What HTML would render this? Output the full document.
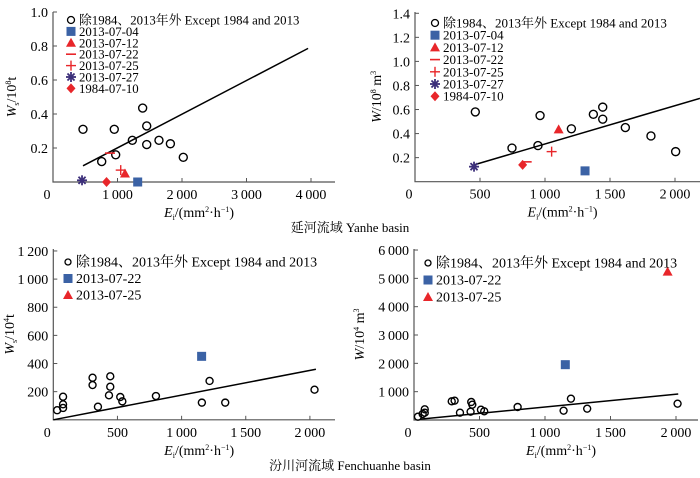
<!DOCTYPE html>
<html><head><meta charset="utf-8">
<style>
html,body{margin:0;padding:0;background:#fff;}
svg{display:block;font-family:"Liberation Serif","Noto Serif CJK SC",serif;}
</style></head>
<body>
<svg id="chart" width="700" height="478" viewBox="0 0 700 478" xmlns="http://www.w3.org/2000/svg">
<text x="350" y="232" font-size="13" text-anchor="middle">延河流域  Yanhe basin</text>
<text x="350" y="470" font-size="13" text-anchor="middle">汾川河流域 Fenchuanhe basin</text>
</svg>
<script>
// ---- Panel A: Yanhe sediment Ws/10^8 t ----
const aXTicks=[1000,2000,3000,4000];
const aYTicks=[0.2,0.4,0.6,0.8,1.0];
const aCircE=[465,755,950,972,1230,1390,1453,1453,1643,1820,2020];
const aCircW=[0.31,0.12,0.31,0.16,0.245,0.435,0.33,0.22,0.245,0.225,0.145];
const aEventE=[1313,1116,884,1050,450,830];
const aEventW=[0.0,0.05,0.17,0.07,0.01,0.0];
const aLineE=[465,3955];
const aLineW=[0.095,0.786];
// ---- Panel B: Yanhe runoff W/10^8 m3 ----
const bXTicks=[500,1000,1500,2000];
const bYTicks=[0.2,0.4,0.6,0.8,1.0,1.2,1.4];
const bCircE=[464,746,946,962,1203,1372,1444,1444,1618,1815,2005];
const bCircW=[0.58,0.28,0.30,0.55,0.44,0.56,0.62,0.52,0.45,0.38,0.25];
const bEventE=[1308,1105,859,1051,454,828];
const bEventW=[0.09,0.435,0.165,0.25,0.125,0.14];
const bLineE=[454,2192];
const bLineW=[0.14,0.693];
// ---- Panel C: Fenchuanhe sediment Ws/10^4 t ----
const cXTicks=[500,1000,1500,2000];
const cYTicks=[200,400,600,800,1000,1200];
const cCircE=[30,76,76,76,306,306,348,434,444,444,522,538,800,1158,1218,1340,2036];
const cCircW=[68,164,110,84,299,247,93,174,309,235,162,131,169,122,276,122,214];
const cEventE=[1156];
const cEventW=[451];
const cLineE=[0,2047];
const cLineW=[0,359];
// ---- Panel D: Fenchuanhe runoff W/10^4 m3 ----
const dXTicks=[500,1000,1500,2000];
const dYTicks=[1000,2000,3000,4000,5000,6000];
const dCircE=[30,66,82,82,288,310,351,432,437,445,511,536,791,1142,1198,1322,2012];
const dCircW=[117,212,377,258,660,682,258,294,635,541,364,306,459,329,753,400,576];
const dEventE=[1155,1936];
const dEventW=[1953,5236];
const dLineE=[50,2017];
const dLineW=[30,918];

const NS="http://www.w3.org/2000/svg";
const svg=document.getElementById('chart');
function mk(tag,attrs,parent){const e=document.createElementNS(NS,tag);for(const k in attrs)e.setAttribute(k,attrs[k]);(parent||svg).appendChild(e);return e;}
function fmt(v){if(v>=1000){const s=String(v);return s.slice(0,s.length-3)+'\u2009'+s.slice(-3);}return (v<10&&v%1!==0)||v===1?v.toFixed(1):String(v);}

const markerStyles={
 square:(g,x,y)=>mk('rect',{x:x-4.5,y:y-4.5,width:9,height:9,fill:'#3b62a5'},g),
 triangle:(g,x,y)=>mk('polygon',{points:`${x},${y-5} ${x-5},${y+4} ${x+5},${y+4}`,fill:'#e8262a'},g),
 dash:(g,x,y)=>mk('line',{x1:x-5,y1:y,x2:x+5,y2:y,stroke:'#e8262a','stroke-width':1.6},g),
 plus:(g,x,y)=>{mk('line',{x1:x-5,y1:y,x2:x+5,y2:y,stroke:'#e8262a','stroke-width':1.4},g);mk('line',{x1:x,y1:y-5,x2:x,y2:y+5,stroke:'#e8262a','stroke-width':1.4},g);},
 star:(g,x,y)=>{for(let a=0;a<4;a++){const t=a*Math.PI/4;mk('line',{x1:x-5*Math.cos(t),y1:y-5*Math.sin(t),x2:x+5*Math.cos(t),y2:y+5*Math.sin(t),stroke:'#3c2f7a','stroke-width':1.8},g);}},
 diamond:(g,x,y)=>mk('polygon',{points:`${x},${y-5} ${x+4.5},${y} ${x},${y+5} ${x-4.5},${y}`,fill:'#e8262a'},g)
};

function panel(p){
 const g=mk('g',{});
 
 
 const sx=e=>p.x0+e*p.kx, sy=w=>p.y0-w*p.ky;
 const ax=mk('path',{d:`M${p.x0},${p.yTop}V${p.y0}H${p.xEnd}`,fill:'none',stroke:'#555','stroke-width':1.2},g);
 
 
 const z=mk('text',{x:p.x0-6,y:p.y0+17,'font-size':14,'text-anchor':'middle'},g);z.textContent='0';
 
 
 p.xt.forEach(v=>{const x=sx(v);mk('line',{x1:x,y1:p.y0,x2:x,y2:p.y0-4,stroke:'#555'},g);
  const t=mk('text',{x:x,y:p.y0+17,'font-size':14,'text-anchor':'middle'},g);t.textContent=fmt(v);
  
  });
 p.yt.forEach(v=>{const y=sy(v);mk('line',{x1:p.x0,y1:y,x2:p.x0+4,y2:y,stroke:'#555'},g);
  const t=mk('text',{x:p.x0-5,y:y+5,'font-size':14,'text-anchor':'end'},g);t.textContent=p.yfmt(v);
  
  });
 const xt=mk('text',{x:(p.x0+p.xEnd)/2+5,y:p.y0+35,'font-size':14,'text-anchor':'middle'},g);
 xt.innerHTML='<tspan font-style="italic">E</tspan><tspan font-size="8" dy="3">i</tspan><tspan dy="-3">/(mm</tspan><tspan font-size="8" dy="-5">2</tspan><tspan dy="5">·h</tspan><tspan font-size="8" dy="-5">−1</tspan><tspan dy="5">)</tspan>';
 
 
 const yt=mk('text',{transform:`translate(${p.ytx},${(p.y0+p.yTop)/2}) rotate(-90)`,'font-size':14,'text-anchor':'middle'},g);
 yt.innerHTML=p.ytitle;
 
 
 const ln=mk('line',{x1:sx(p.lE[0]),y1:sy(p.lW[0]),x2:sx(p.lE[1]),y2:sy(p.lW[1]),stroke:'#000','stroke-width':1.5},g);
 
 
 p.cE.forEach((e,i)=>{const c=mk('circle',{cx:sx(e),cy:sy(p.cW[i]),r:p.r,fill:'none',stroke:'#000','stroke-width':1.4},g);
  
  });
 p.eE.forEach((e,i)=>{const m=mk('g',{},g);markerStyles[p.kinds[i]](m,sx(e),sy(p.eW[i]));
  
  });
 const all=[['circle','除1984、2013年外 Except 1984 and 2013']].concat(p.kinds.map((k,i)=>[k,p.labels[i]]));
 all.forEach((it,i)=>{const y=p.legY+i*p.legDy;const lg=mk('g',{},g);
  
  
  if(it[0]==='circle')mk('circle',{cx:p.legX,cy:y,r:p.r-0.5,fill:'none',stroke:'#000','stroke-width':1.3},lg);
  else markerStyles[it[0]](lg,p.legX,y);
  const t=mk('text',{x:p.legX+8,y:y+4.5,'font-size':p.legFs||13},lg);t.textContent=it[1];});
}
const yanKinds=['square','triangle','dash','plus','star','diamond'];
const yanLabels=['2013-07-04','2013-07-12','2013-07-22','2013-07-25','2013-07-27','1984-07-10'];
panel({name:'panel-yanhe-sediment',x0:53,y0:182,kx:0.0645,ky:170,xEnd:335,yTop:12,xt:aXTicks,yt:aYTicks,yfmt:v=>v.toFixed(1),
 ytx:16,ytitle:'<tspan font-style="italic">W</tspan><tspan font-size="8" dy="3">s</tspan><tspan dy="-3">/10</tspan><tspan font-size="8" dy="-5">8</tspan><tspan dy="5">t</tspan>',
 lE:aLineE,lW:aLineW,cE:aCircE,cW:aCircW,eE:aEventE,eW:aEventW,kinds:yanKinds,labels:yanLabels,r:4,legX:71,legY:20,legDy:11.4,legFs:12.8});
panel({name:'panel-yanhe-runoff',x0:415,y0:181.7,kx:0.13,ky:120.3,xEnd:700,yTop:12,xt:bXTicks,yt:bYTicks,yfmt:v=>v.toFixed(1),
 ytx:381,ytitle:'<tspan font-style="italic">W</tspan><tspan>/10</tspan><tspan font-size="8" dy="-5">8</tspan><tspan dy="5"> m</tspan><tspan font-size="8" dy="-5">3</tspan>',
 lE:bLineE,lW:bLineW,cE:bCircE,cW:bCircW,eE:bEventE,eW:bEventW,kinds:yanKinds,labels:yanLabels,r:4,legX:435,legY:23,legDy:12.2,legFs:13});
panel({name:'panel-fenchuanhe-sediment',x0:53.3,y0:419.8,kx:0.1283,ky:0.1407,xEnd:335,yTop:249,xt:cXTicks,yt:cYTicks,yfmt:fmt,
 ytx:14,ytitle:'<tspan font-style="italic">W</tspan><tspan font-size="8" dy="3">s</tspan><tspan dy="-3">/10</tspan><tspan font-size="8" dy="-5">4</tspan><tspan dy="5">t</tspan>',
 lE:cLineE,lW:cLineW,cE:cCircE,cW:cCircW,eE:cEventE,eW:cEventW,kinds:['square','triangle'],labels:['2013-07-22','2013-07-25'],r:3.5,legX:68,legY:262,legDy:16.5,legFs:14});
panel({name:'panel-fenchuanhe-runoff',x0:414,y0:420,kx:0.131,ky:0.02833,xEnd:698,yTop:249,xt:dXTicks,yt:dYTicks,yfmt:fmt,
 ytx:364,ytitle:'<tspan font-style="italic">W</tspan><tspan>/10</tspan><tspan font-size="8" dy="-5">4</tspan><tspan dy="5"> m</tspan><tspan font-size="8" dy="-5">3</tspan>',
 lE:dLineE,lW:dLineW,cE:dCircE,cW:dCircW,eE:dEventE,eW:dEventW,kinds:['square','triangle'],labels:['2013-07-22','2013-07-25'],r:3.5,legX:428,legY:263,legDy:17,legFs:14});
</script>
</body></html>
